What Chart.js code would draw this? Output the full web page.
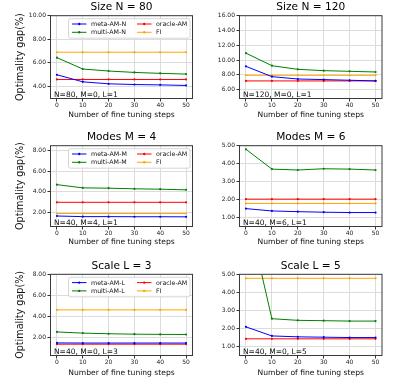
<!DOCTYPE html>
<html><head><meta charset="utf-8">
<script src="https://cdn.jsdelivr.net/npm/chart.js@4/dist/chart.umd.min.js"></script>
<style>
html,body{margin:0;padding:0;background:#fff;width:405px;height:378px;overflow:hidden;position:relative}
canvas{position:absolute}
</style></head><body>
<canvas id="c0"></canvas><canvas id="c1"></canvas><canvas id="c2"></canvas>
<canvas id="c3"></canvas><canvas id="c4"></canvas><canvas id="c5"></canvas>
<script>
// ---- data ----
const steps = [0, 10, 20, 30, 40, 50];

const sizeN80Meta   = [4.97, 4.37, 4.20, 4.14, 4.11, 4.06];
const sizeN80Multi  = [6.43, 5.46, 5.29, 5.17, 5.09, 5.03];
const sizeN80Oracle = [4.57, 4.57, 4.57, 4.57, 4.57, 4.57];
const sizeN80FI     = [6.89, 6.89, 6.89, 6.89, 6.89, 6.89];

const sizeN120Meta   = [9.14, 7.75, 7.43, 7.35, 7.26, 7.17];
const sizeN120Multi  = [10.93, 9.23, 8.74, 8.56, 8.47, 8.38];
const sizeN120Oracle = [7.17, 7.17, 7.17, 7.17, 7.17, 7.17];
const sizeN120FI     = [7.93, 7.93, 7.93, 7.93, 7.93, 7.93];

const modesM4Meta   = [1.68, 1.62, 1.62, 1.61, 1.61, 1.60];
const modesM4Multi  = [4.70, 4.39, 4.36, 4.30, 4.26, 4.20];
const modesM4Oracle = [3.00, 3.00, 3.00, 3.00, 3.00, 3.00];
const modesM4FI     = [1.92, 1.92, 1.92, 1.92, 1.92, 1.92];

const modesM6Meta   = [1.48, 1.35, 1.31, 1.28, 1.26, 1.26];
const modesM6Multi  = [4.80, 3.69, 3.64, 3.71, 3.69, 3.64];
const modesM6Oracle = [2.01, 2.01, 2.01, 2.01, 2.01, 2.01];
const modesM6FI     = [1.77, 1.77, 1.77, 1.77, 1.77, 1.77];

const scaleL3Meta   = [1.50, 1.49, 1.49, 1.49, 1.49, 1.49];
const scaleL3Multi  = [2.54, 2.43, 2.37, 2.33, 2.31, 2.30];
const scaleL3Oracle = [1.38, 1.38, 1.38, 1.38, 1.38, 1.38];
const scaleL3FI     = [4.63, 4.63, 4.63, 4.63, 4.63, 4.63];

const scaleL5Meta   = [2.10, 1.60, 1.55, 1.53, 1.51, 1.51];
const scaleL5Multi  = [8.80, 2.55, 2.46, 2.44, 2.42, 2.42];
const scaleL5Oracle = [1.44, 1.44, 1.44, 1.44, 1.44, 1.44];
const scaleL5FI     = [4.78, 4.78, 4.78, 4.78, 4.78, 4.78];

const xTicks = [0, 10, 20, 30, 40, 50];
const yTicksN80  = [4, 6, 8, 10];
const yTicksN120 = [6, 8, 10, 12, 14, 16];
const yTicksM4   = [2, 4, 6, 8];
const yTicksM6   = [1, 2, 3, 4, 5];
const yTicksL3   = [2, 4, 6, 8];
const yTicksL5   = [1, 2, 3, 4, 5];

const titles = ["Size N = 80", "Size N = 120", "Modes M = 4", "Modes M = 6", "Scale L = 3", "Scale L = 5"];
const notes  = ["N=80, M=0, L=1", "N=120, M=0, L=1", "N=40, M=4, L=1", "N=40, M=6, L=1", "N=40, M=0, L=3", "N=40, M=0, L=5"];
const seriesLabelsN = ["meta-AM-N", "multi-AM-N", "oracle-AM", "FI"];
const seriesLabelsM = ["meta-AM-M", "multi-AM-M", "oracle-AM", "FI"];
const seriesLabelsL = ["meta-AM-L", "multi-AM-L", "oracle-AM", "FI"];
const yLabel = "Optimality gap(%)";
const xLabel = "Number of fine tuning steps";

// ---- styling / layout ----
const FONT = "'DejaVu Sans', sans-serif";
const colors = ["#0000ff", "#008000", "#ff0000", "#ffa500"];

const cols = [
  {left: 0, width: 200, yW: 50.5, padR: 7.5, ylabel: true},
  {left: 200, width: 205, yW: 39.5, padR: 23, ylabel: false}
];
const rows = [
  {top: 0, height: 125, padT: 15.7, xH: 26.5, xtp: 5.4},
  {top: 125, height: 127, padT: 20.7, xH: 25.5, xtp: 5.1},
  {top: 250, height: 128, padT: 24.3, xH: 22.5, xtp: 0.1}
];

const panels = [
  {series: [sizeN80Meta, sizeN80Multi, sizeN80Oracle, sizeN80FI], labels: seriesLabelsN, yTicks: yTicksN80, yMin: 2.95, yMax: 10, legend: true},
  {series: [sizeN120Meta, sizeN120Multi, sizeN120Oracle, sizeN120FI], labels: seriesLabelsN, yTicks: yTicksN120, yMin: 4.79, yMax: 16, legend: false},
  {series: [modesM4Meta, modesM4Multi, modesM4Oracle, modesM4FI], labels: seriesLabelsM, yTicks: yTicksM4, yMin: 0.67, yMax: 8.45, legend: true},
  {series: [modesM6Meta, modesM6Multi, modesM6Oracle, modesM6FI], labels: seriesLabelsM, yTicks: yTicksM6, yMin: 0.48, yMax: 5, legend: false},
  {series: [scaleL3Meta, scaleL3Multi, scaleL3Oracle, scaleL3FI], labels: seriesLabelsL, yTicks: yTicksL3, yMin: 0.31, yMax: 8, legend: true},
  {series: [scaleL5Meta, scaleL5Multi, scaleL5Oracle, scaleL5FI], labels: seriesLabelsL, yTicks: yTicksL5, yMin: 0.52, yMax: 5, legend: false}
];

const decor = {
  id: 'decor',
  afterDraw(chart, args, o) {
    const ctx = chart.ctx, a = chart.chartArea;
    ctx.save();
    // spines
    ctx.strokeStyle = '#3a3a3a'; ctx.lineWidth = 1;
    ctx.strokeRect(a.left, a.top, a.right - a.left, a.bottom - a.top);
    // title
    ctx.fillStyle = '#000';
    ctx.font = "10.6px " + FONT;
    ctx.textAlign = 'center'; ctx.textBaseline = 'middle';
    ctx.fillText(o.title, (a.left + a.right) / 2, a.top - 8);
    // note
    ctx.font = "7.5px " + FONT;
    ctx.textAlign = 'left'; ctx.textBaseline = 'alphabetic';
    ctx.fillStyle = '#111';
    ctx.fillText(o.note, a.left + 3.5, a.bottom - 1.8);
    // legend
    if (o.legend) {
      const bx = a.left + 18, by = a.top + 3, bw = a.right - 2.5 - bx, bh = 19.5;
      ctx.fillStyle = 'rgba(255,255,255,0.85)';
      ctx.strokeStyle = '#cccccc'; ctx.lineWidth = 0.8;
      ctx.beginPath();
      if (ctx.roundRect) ctx.roundRect(bx, by, bw, bh, 2); else ctx.rect(bx, by, bw, bh);
      ctx.fill(); ctx.stroke();
      ctx.font = "6.3px " + FONT;
      ctx.textBaseline = 'middle';
      const ds = chart.data.datasets;
      const pos = [[0, 0], [0, 1], [1, 0], [1, 1]];
      ds.forEach((d, i) => {
        const cx = bx + (pos[i][0] ? 68.5 : 3.5);
        const cy = by + (pos[i][1] ? 13.6 : 5.3);
        ctx.strokeStyle = d.borderColor; ctx.lineWidth = 1;
        ctx.beginPath(); ctx.moveTo(cx, cy); ctx.lineTo(cx + 14.5, cy); ctx.stroke();
        ctx.fillStyle = d.borderColor;
        ctx.beginPath(); ctx.arc(cx + 7.25, cy, 1.2, 0, Math.PI * 2); ctx.fill();
        ctx.fillStyle = '#111';
        ctx.fillText(d.label, cx + 19, cy + 0.3);
      });
    }
    ctx.restore();
  }
};

panels.forEach((p, i) => {
  const col = cols[i % 2], row = rows[Math.floor(i / 2)];
  const cv = document.getElementById('c' + i);
  cv.width = col.width; cv.height = row.height;
  cv.style.left = col.left + 'px'; cv.style.top = row.top + 'px';
  cv.style.width = col.width + 'px'; cv.style.height = row.height + 'px';
  new Chart(cv, {
    type: 'line',
    data: {
      datasets: p.series.map((s, k) => ({
        label: p.labels[k],
        data: steps.map((x, j) => ({x: x, y: s[j]})),
        borderColor: colors[k],
        backgroundColor: colors[k],
        borderWidth: 1,
        pointRadius: 1.1,
        pointHoverRadius: 1.1,
        pointBorderWidth: 0,
        tension: 0,
        fill: false
      }))
    },
    options: {
      responsive: false,
      animation: false,
      devicePixelRatio: 1,
      events: [],
      layout: {autoPadding: false, padding: {left: 0, right: col.padR, top: row.padT, bottom: 0}},
      plugins: {
        legend: {display: false},
        title: {display: false},
        tooltip: {enabled: false},
        decor: {title: titles[i], note: notes[i], legend: p.legend}
      },
      scales: {
        x: {
          type: 'linear', min: -2.5, max: 52.5,
          afterBuildTicks: s => { s.ticks = xTicks.map(v => ({value: v})); },
          afterFit: s => { s.height = row.xH; },
          grid: {color: '#dcdcdc', lineWidth: 1, tickLength: 3, tickColor: '#333', drawTicks: true},
          border: {display: false},
          ticks: {font: {family: FONT, size: 6}, color: '#222', padding: 0.5, maxRotation: 0, autoSkip: false, callback: v => String(v)},
          title: {display: true, text: xLabel, font: {family: FONT, size: 7.6}, color: '#111', padding: {top: 0, bottom: row.xtp}}
        },
        y: {
          type: 'linear', min: p.yMin, max: p.yMax,
          afterBuildTicks: s => { s.ticks = p.yTicks.map(v => ({value: v})); },
          afterFit: s => { s.width = col.yW; },
          grid: {color: '#dcdcdc', lineWidth: 1, tickLength: 3, tickColor: '#333', drawTicks: true},
          border: {display: false},
          ticks: {font: {family: FONT, size: 6}, color: '#222', padding: 1.5, autoSkip: false, callback: v => Number(v).toFixed(2)},
          title: {display: col.ylabel, text: yLabel, font: {family: FONT, size: 9.6}, color: '#111', padding: {top: 15, bottom: 0}}
        }
      }
    },
    plugins: [decor]
  });
});
</script>
</body></html>
